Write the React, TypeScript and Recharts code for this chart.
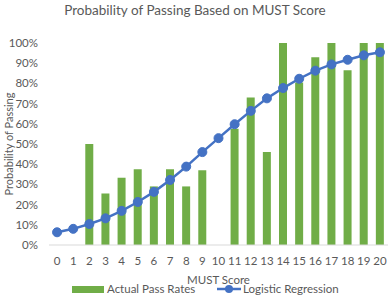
import { ComposedChart, Bar, Line, XAxis, YAxis } from 'recharts';

const scores = ['0', '1', '2', '3', '4', '5', '6', '7', '8', '9', '10', '11', '12', '13', '14', '15', '16', '17', '18', '19', '20'];
const actualPassRates = [0, 0, 0.5, 0.255, 0.333, 0.375, 0.29, 0.375, 0.29, 0.37, 0, 0.575, 0.73, 0.46, 1, 0.805, 0.93, 1, 0.865, 1, 1];
const logisticRegression = [0.063, 0.08, 0.104, 0.132, 0.169, 0.213, 0.263, 0.322, 0.388, 0.46, 0.529, 0.598, 0.664, 0.726, 0.777, 0.823, 0.863, 0.894, 0.917, 0.939, 0.954];
const yTicks = [0, 0.1, 0.2, 0.3, 0.4, 0.5, 0.6, 0.7, 0.8, 0.9, 1];

const FONT = 'Lato, "Open Sans", sans-serif';
const GREEN = '#70AD47';
const BLUE = '#4472C4';
const TEXT = '#595959';

const chartData = scores.map((s, i) => ({
  score: s,
  actual: actualPassRates[i],
  logistic: logisticRegression[i],
}));

// y axis title, rotated
const YTitle = () => (
  <text x={8} y={144} transform="rotate(-90, 8, 144)" textAnchor="middle" dominantBaseline="central" fill={TEXT} fontSize={11} fontFamily={FONT}>
    Probability of Passing
  </text>
);

const ChartLegend = () => (
  <div style={{ position: 'absolute', top: 282, left: 0, width: 390, height: 16, fontFamily: FONT, fontSize: 11.5, color: TEXT }}>
    <span style={{ position: 'absolute', left: 72, top: 4, width: 32, height: 7, background: GREEN }} />
    <span style={{ position: 'absolute', left: 107, top: 0 }}>Actual Pass Rates</span>
    <svg width={24} height={10} style={{ position: 'absolute', left: 217, top: 2 }}>
      <line x1={0} y1={5} x2={24} y2={5} stroke={BLUE} strokeWidth={2.5} />
      <circle cx={12} cy={5} r={4} fill={BLUE} />
    </svg>
    <span style={{ position: 'absolute', left: 243, top: 0 }}>Logistic Regression</span>
  </div>
);

export default function App() {
  return (
    <div style={{ position: 'absolute', left: 0, top: 0, width: 390, height: 305, background: '#fff' }}>
      <div style={{ position: 'absolute', top: 2, width: 390, textAlign: 'center', fontFamily: FONT, fontSize: 13.5, color: TEXT }}>
        Probability of Passing Based on MUST Score
      </div>
      <ComposedChart width={390} height={305} data={chartData} margin={{ top: 43, right: 2, left: 0, bottom: 20 }} barSize={8}>
        <XAxis
          dataKey="score"
          tickLine={false}
          axisLine={{ stroke: '#d9d9d9' }}
          tick={{ fill: TEXT, fontSize: 11.5, fontFamily: FONT }}
          tickMargin={6}
          interval={0}
          height={40}
          label={{ value: 'MUST Score', position: 'insideBottom', offset: 1, fill: TEXT, fontSize: 11.5, fontFamily: FONT }}
        />
        <YAxis
          domain={[0, 1]}
          ticks={yTicks}
          tickFormatter={(v: number) => `${Math.round(v * 100)}%`}
          axisLine={false}
          tickLine={false}
          tickMargin={5}
          width={49}
          tick={{ fill: TEXT, fontSize: 11.5, fontFamily: FONT }}
          label={<YTitle />}
        />
        <Bar dataKey="actual" name="Actual Pass Rates" fill={GREEN} isAnimationActive={false} />
        <Line
          dataKey="logistic"
          name="Logistic Regression"
          stroke={BLUE}
          strokeWidth={2.5}
          dot={{ r: 4.5, fill: BLUE, stroke: BLUE, strokeWidth: 1 }}
          isAnimationActive={false}
        />
      </ComposedChart>
      <ChartLegend />
    </div>
  );
}
